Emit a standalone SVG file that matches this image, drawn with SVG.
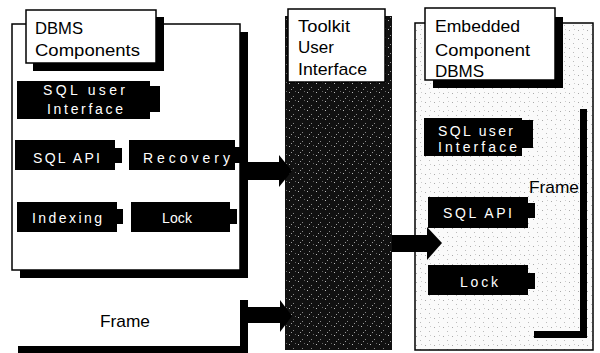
<svg xmlns="http://www.w3.org/2000/svg" width="600" height="353" viewBox="0 0 600 353">
<defs>
<pattern id="dark" width="9" height="9" patternUnits="userSpaceOnUse">
<rect width="9" height="9" fill="#111"/>
<rect x="1" y="2" width="1" height="1" fill="#bbb"/>
<rect x="5" y="6" width="1" height="1" fill="#888"/>
<rect x="7" y="1" width="1" height="1" fill="#666"/>
<rect x="3" y="8" width="1" height="1" fill="#999"/>
</pattern>
<pattern id="light" width="9" height="9" patternUnits="userSpaceOnUse">
<rect width="9" height="9" fill="#fafafa"/>
<rect x="2" y="3" width="1" height="1" fill="#aaa"/>
<rect x="6" y="7" width="1" height="1" fill="#bbb"/>
<rect x="7" y="2" width="1" height="1" fill="#ccc"/>
</pattern>
</defs>
<style>
.box{fill:#fff;stroke:#000;stroke-width:1.5}
.sh{fill:#000}
.blk{fill:#000}
.t{font-family:"Liberation Sans",Arial,sans-serif;font-size:17px;fill:#000}
.w{font-family:"Liberation Sans",Arial,sans-serif;font-size:14px;fill:#fff}
</style>
<rect width="600" height="353" fill="#fff"/>

<g id="dbms-components">
<rect class="sh" x="20" y="32" width="228" height="246"/>
<rect class="box" x="12" y="24" width="228" height="246"/>
<rect class="sh" x="33" y="17" width="131" height="54"/>
<rect class="box" x="26" y="10" width="130" height="53"/>
<text class="t" x="35" y="34" textLength="48" lengthAdjust="spacingAndGlyphs">DBMS</text>
<text class="t" x="35" y="56" textLength="105" lengthAdjust="spacingAndGlyphs">Components</text>
</g>

<g id="l-sql-ui">
<rect class="blk" x="17" y="81" width="133" height="38"/>
<rect class="blk" x="149" y="86" width="11" height="26"/>
<text class="w" x="43" y="95" textLength="82" lengthAdjust="spacing">SQL user</text>
<text class="w" x="47" y="114" textLength="76" lengthAdjust="spacing">Interface</text>
</g>
<g id="l-sql-api">
<rect class="blk" x="15" y="140" width="100" height="30"/>
<rect class="blk" x="114" y="148" width="8" height="15"/>
<text class="w" x="33" y="163" textLength="67" lengthAdjust="spacing">SQL API</text>
</g>
<g id="l-recovery">
<rect class="blk" x="129" y="140" width="106" height="30"/>
<rect class="blk" x="234" y="147" width="6" height="16"/>
<text class="w" x="143" y="163" textLength="87" lengthAdjust="spacing">Recovery</text>
</g>
<g id="l-indexing">
<rect class="blk" x="17" y="202" width="100" height="30"/>
<rect class="blk" x="116" y="209" width="7" height="15"/>
<text class="w" x="32" y="223" textLength="70" lengthAdjust="spacing">Indexing</text>
</g>
<g id="l-lock">
<rect class="blk" x="131" y="202" width="99" height="30"/>
<rect class="blk" x="229" y="209" width="8" height="15"/>
<text class="w" x="162" y="223" textLength="30" lengthAdjust="spacing">Lock</text>
</g>

<g id="frame-left">
<rect class="blk" x="240" y="300" width="8" height="53"/>
<rect class="blk" x="18" y="346" width="230" height="7"/>
<text class="t" x="100" y="327" textLength="50" lengthAdjust="spacingAndGlyphs">Frame</text>
</g>

<g id="toolkit-ui">
<rect x="285" y="16" width="107" height="334" fill="url(#dark)"/>
<rect class="box" x="288" y="9" width="97" height="73"/>
<text class="t" x="298" y="32" textLength="52" lengthAdjust="spacingAndGlyphs">Toolkit</text>
<text class="t" x="298" y="53">User</text>
<text class="t" x="298" y="75" textLength="69" lengthAdjust="spacingAndGlyphs">Interface</text>
</g>

<g id="embedded-dbms">
<rect x="415" y="23" width="178" height="327" fill="url(#light)" stroke="#000" stroke-width="1.5"/>
<rect class="sh" x="433" y="17" width="130" height="71"/>
<rect class="box" x="425" y="8" width="130" height="72"/>
<text class="t" x="435" y="32" textLength="85" lengthAdjust="spacingAndGlyphs">Embedded</text>
<text class="t" x="435" y="56" textLength="95" lengthAdjust="spacingAndGlyphs">Component</text>
<text class="t" x="435" y="77">DBMS</text>
</g>

<g id="r-sql-ui">
<rect class="blk" x="424" y="118" width="98" height="38"/>
<rect class="blk" x="521" y="120" width="12" height="28"/>
<text class="w" x="438" y="136" textLength="75" lengthAdjust="spacing">SQL user</text>
<text class="w" x="438" y="152" textLength="79" lengthAdjust="spacing">Interface</text>
</g>
<g id="r-sql-api">
<rect class="blk" x="428" y="197" width="100" height="31"/>
<rect class="blk" x="527" y="203" width="8" height="15"/>
<text class="w" x="443" y="218" textLength="69" lengthAdjust="spacing">SQL API</text>
</g>
<g id="r-lock">
<rect class="blk" x="428" y="265" width="100" height="30"/>
<rect class="blk" x="527" y="273" width="8" height="16"/>
<text class="w" x="460" y="287" textLength="38" lengthAdjust="spacing">Lock</text>
</g>

<g id="frame-right">
<rect class="blk" x="580" y="109" width="7" height="229"/>
<rect class="blk" x="534" y="331" width="53" height="7"/>
<text class="t" x="529" y="193" textLength="50" lengthAdjust="spacingAndGlyphs">Frame</text>
</g>

<g id="connectors">
<rect class="blk" x="248" y="162" width="33" height="18"/>
<polygon class="blk" points="279,155 292,171 279,187"/>
<rect class="blk" x="248" y="307" width="33" height="16"/>
<polygon class="blk" points="280,300 292,316 280,332"/>
<rect class="blk" x="392" y="235" width="37" height="17"/>
<polygon class="blk" points="427,227 442,243 427,260"/>
</g>
</svg>
